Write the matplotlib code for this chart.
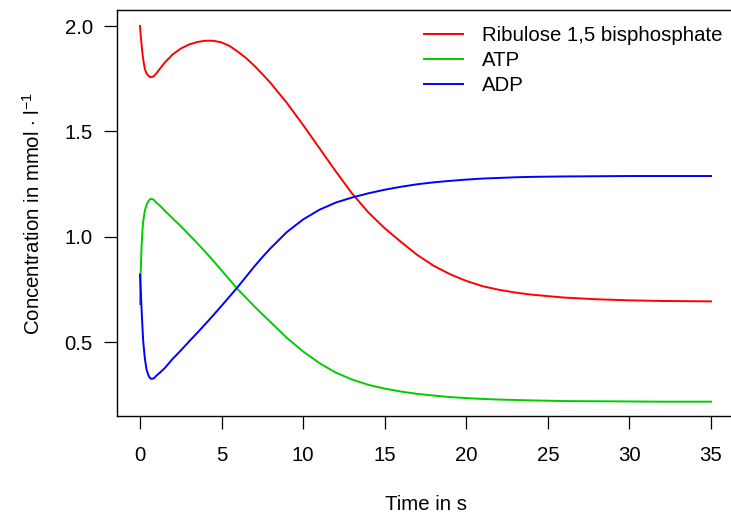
import numpy as np
import matplotlib
matplotlib.use('Agg')
import matplotlib.pyplot as plt

plt.rcParams['font.family'] = ['Liberation Sans', 'DejaVu Sans']
plt.rcParams['mathtext.fontset'] = 'custom'
plt.rcParams['mathtext.rm'] = 'Liberation Sans'
plt.rcParams['mathtext.it'] = 'Liberation Sans:italic'

# time points (s)
time = [0, 0.05, 0.1, 0.15, 0.2, 0.3, 0.4, 0.5, 0.6, 0.7, 0.85, 1.0,
        1.25, 1.5, 2.0, 2.5, 3.0, 3.5, 4.0, 4.5, 5.0, 5.5, 6.0, 6.5, 7.0, 7.5, 8.0,
        9, 10, 11, 12, 13, 14, 15, 16, 17, 18, 19, 20, 21, 22, 23, 24,
        26, 28, 30, 32, 35]

# concentrations (mmol/l)
rubp = [2.0, 1.95, 1.91, 1.87, 1.84, 1.795, 1.775, 1.765, 1.759, 1.757, 1.762, 1.775,
        1.80, 1.825, 1.865, 1.893, 1.912, 1.924, 1.93, 1.93, 1.922, 1.905, 1.878,
        1.848, 1.812, 1.772, 1.73,
        1.635, 1.53, 1.42, 1.31, 1.205, 1.115, 1.04, 0.975, 0.913, 0.862, 0.822,
        0.79, 0.765, 0.748, 0.735, 0.725,
        0.711, 0.703, 0.698, 0.695, 0.693]
atp = [0.68, 0.85, 0.96, 1.03, 1.075, 1.125, 1.15, 1.167, 1.177, 1.18, 1.175, 1.162,
       1.145, 1.125, 1.087, 1.05, 1.01, 0.97, 0.928, 0.885, 0.84, 0.795, 0.75,
       0.71, 0.67, 0.632, 0.595,
       0.52, 0.455, 0.40, 0.355, 0.322, 0.297, 0.279, 0.265, 0.254, 0.246, 0.239,
       0.234, 0.23, 0.227, 0.225, 0.223,
       0.22, 0.219, 0.218, 0.217, 0.217]
adp = [0.82, 0.74, 0.65, 0.57, 0.50, 0.42, 0.37, 0.345, 0.33, 0.325, 0.328, 0.34,
       0.357, 0.375, 0.42, 0.46, 0.502, 0.543, 0.585, 0.628, 0.672, 0.717, 0.762,
       0.81, 0.858, 0.903, 0.945,
       1.022, 1.082, 1.128, 1.162, 1.186, 1.206, 1.223, 1.237, 1.249, 1.258, 1.265,
       1.271, 1.276, 1.279, 1.282, 1.284,
       1.286, 1.287, 1.288, 1.288, 1.288]

labels = ['Ribulose 1,5 bisphosphate', 'ATP', 'ADP']
colors = ['#FF0000', '#00CD00', '#0000FF']
fs = 14.7

W, H = 731, 514
fig = plt.figure(figsize=(W / 100, H / 100), dpi=100)
# plot region in pixels: left 117, right 734 (just off the image), top 10, bottom 416
ax = fig.add_axes([117 / W, 1 - 416 / H, (734 - 117) / W, (416 - 10) / H])

for y, lab, c in zip([rubp, atp, adp], labels, colors):
    ax.plot(time, y, color=c, lw=1.4, label=lab)

ax.set_xlim(-1.41, 36.41)
ax.set_ylim(0.149, 2.076)
ax.set_xticks([0, 5, 10, 15, 20, 25, 30, 35])
ax.set_yticks([0.5, 1.0, 1.5, 2.0])
ax.set_yticklabels(['0.5', '1.0', '1.5', '2.0'])

for s in ax.spines.values():
    s.set_linewidth(1.0)
ax.tick_params(direction='out', length=9.4, width=0.9, labelsize=fs)
ax.tick_params(axis='x', pad=12)
ax.tick_params(axis='y', pad=8)

ax.set_xlabel('Time in s', fontsize=fs, labelpad=22)
ax.set_ylabel('Concentration in mmol $\\cdot$ l$^{-1}$', fontsize=fs, labelpad=15)

ax.legend(loc='upper left', bbox_to_anchor=(424 / W, 1 - 26 / H),
          bbox_transform=fig.transFigure, frameon=False, fontsize=fs,
          borderpad=0, borderaxespad=0, handlelength=1.9, handletextpad=0.93,
          labelspacing=0.29)

fig.savefig('out.png', dpi=100)
